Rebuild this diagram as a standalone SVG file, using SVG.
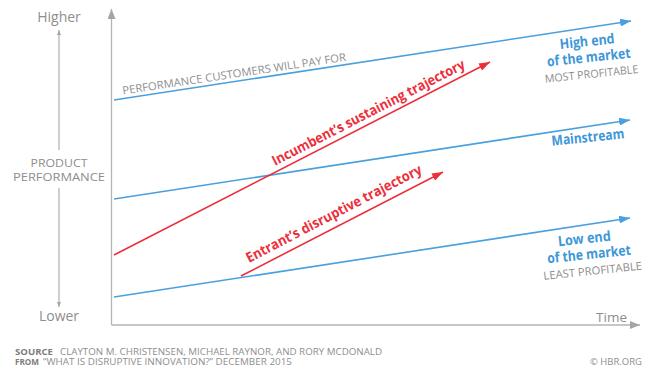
<svg xmlns="http://www.w3.org/2000/svg" width="646" height="369" viewBox="0 0 646 369">
<defs>
<style>
.ax{stroke:#b5b5b5;stroke-width:1.3;fill:none}
.bl{stroke:#4aa0de;stroke-width:1.6;fill:none}
.rd{stroke:#ec2f3b;stroke-width:1.6;fill:none}
.t{font-family:"Open Sans","Liberation Sans",sans-serif}
.g{fill:#8e8e8e}
.b{fill:#3d97d8;font-weight:700}
.r{fill:#ec2f3b;font-weight:700}
</style>
<marker id="ab" markerUnits="userSpaceOnUse" markerWidth="11" markerHeight="8" refX="11" refY="4" orient="auto"><path d="M0,0 L11,4 L0,8 z" fill="#4aa0de"/></marker>
<marker id="ar" markerUnits="userSpaceOnUse" markerWidth="11" markerHeight="8" refX="11" refY="4" orient="auto"><path d="M0,0 L11,4 L0,8 z" fill="#ec2f3b"/></marker>
<marker id="ag" markerUnits="userSpaceOnUse" markerWidth="10" markerHeight="8" refX="10" refY="4" orient="auto"><path d="M0,0 L10,4 L0,8 z" fill="#a5a5a5"/></marker>
<marker id="as" markerUnits="userSpaceOnUse" markerWidth="5" markerHeight="4" refX="5" refY="2" orient="auto"><path d="M0,0 L5,2 L0,4 z" fill="#a5a5a5"/></marker>
</defs>
<rect width="646" height="369" fill="#fff"/>

<g id="axes">
<line class="ax" x1="111.5" y1="325" x2="111.5" y2="9" marker-end="url(#ag)"/>
<line class="ax" x1="111.5" y1="325" x2="640" y2="325" marker-end="url(#ag)"/>
<line class="ax" x1="59" y1="150" x2="59" y2="30" marker-end="url(#as)"/>
<line class="ax" x1="59" y1="188" x2="59" y2="307" marker-end="url(#as)"/>
</g>

<g id="axis-labels" class="t">
<text class="g" x="59" y="22" font-size="14" text-anchor="middle">Higher</text>
<text class="g" x="59" y="321" font-size="14" text-anchor="middle">Lower</text>
<text class="g" x="59" y="166.5" font-size="11.5" text-anchor="middle" textLength="57" lengthAdjust="spacingAndGlyphs">PRODUCT</text>
<text class="g" x="59" y="181" font-size="11.5" text-anchor="middle" textLength="92" lengthAdjust="spacingAndGlyphs">PERFORMANCE</text>
<text class="g" x="627" y="322" font-size="13.5" text-anchor="end">Time</text>
</g>

<g id="connectors">
<line id="c-perf" class="bl" x1="114" y1="100" x2="631" y2="21" marker-end="url(#ab)"/>
<line id="c-main" class="bl" x1="114" y1="199" x2="630" y2="120" marker-end="url(#ab)"/>
<line id="c-low" class="bl" x1="114" y1="297" x2="630" y2="218" marker-end="url(#ab)"/>
<line id="c-inc" class="rd" x1="114" y1="255" x2="490" y2="62" marker-end="url(#ar)"/>
<line id="c-ent" class="rd" x1="241" y1="276" x2="443" y2="172" marker-end="url(#ar)"/>
</g>

<g id="n-perf" class="t">
<text class="g" x="0" y="0" font-size="11" transform="translate(123,94.5) rotate(-8.6)" textLength="226" lengthAdjust="spacingAndGlyphs">PERFORMANCE CUSTOMERS WILL PAY FOR</text>
</g>

<g id="n-high" class="t" transform="translate(589,0) rotate(-6 0 60)">
<text class="b" x="0" y="46" font-size="14" text-anchor="middle" textLength="55" lengthAdjust="spacingAndGlyphs">High end</text>
<text class="b" x="0" y="62" font-size="14" text-anchor="middle" textLength="84" lengthAdjust="spacingAndGlyphs">of the market</text>
<text class="g" x="1" y="78" font-size="11" text-anchor="middle" textLength="94" lengthAdjust="spacingAndGlyphs">MOST PROFITABLE</text>
</g>

<g id="n-main" class="t" transform="translate(588,0) rotate(-6 0 138)">
<text class="b" x="0" y="142" font-size="14" text-anchor="middle" textLength="73" lengthAdjust="spacingAndGlyphs">Mainstream</text>
</g>

<g id="n-low" class="t" transform="translate(589,0) rotate(-6 0 255)">
<text class="b" x="-3" y="243" font-size="14" text-anchor="middle" textLength="53" lengthAdjust="spacingAndGlyphs">Low end</text>
<text class="b" x="0" y="259" font-size="14" text-anchor="middle" textLength="84" lengthAdjust="spacingAndGlyphs">of the market</text>
<text class="g" x="2" y="275" font-size="11" text-anchor="middle" textLength="99" lengthAdjust="spacingAndGlyphs">LEAST PROFITABLE</text>
</g>

<g id="n-inc" class="t">
<text class="r" x="0" y="0" font-size="14" transform="translate(275,166) rotate(-27.2)" textLength="215" lengthAdjust="spacingAndGlyphs">Incumbent’s sustaining trajectory</text>
</g>

<g id="n-ent" class="t">
<text class="r" x="0" y="0" font-size="14" transform="translate(249,263) rotate(-27.4)" textLength="196" lengthAdjust="spacingAndGlyphs">Entrant’s disruptive trajectory</text>
</g>

<g id="footer" class="t" font-size="8.5">
<text x="15" y="354.5" font-weight="700" fill="#7d7d7d" textLength="38" lengthAdjust="spacingAndGlyphs">SOURCE</text>
<text x="60" y="354.5" class="g" textLength="322" lengthAdjust="spacingAndGlyphs">CLAYTON M. CHRISTENSEN, MICHAEL RAYNOR, AND RORY MCDONALD</text>
<text x="15" y="364.5" font-weight="700" fill="#7d7d7d" textLength="24" lengthAdjust="spacingAndGlyphs">FROM</text>
<text x="43" y="364.5" class="g" textLength="249" lengthAdjust="spacingAndGlyphs">“WHAT IS DISRUPTIVE INNOVATION?” DECEMBER 2015</text>
<text x="642" y="365" class="g" text-anchor="end" textLength="52" lengthAdjust="spacingAndGlyphs">© HBR.ORG</text>
</g>
</svg>
